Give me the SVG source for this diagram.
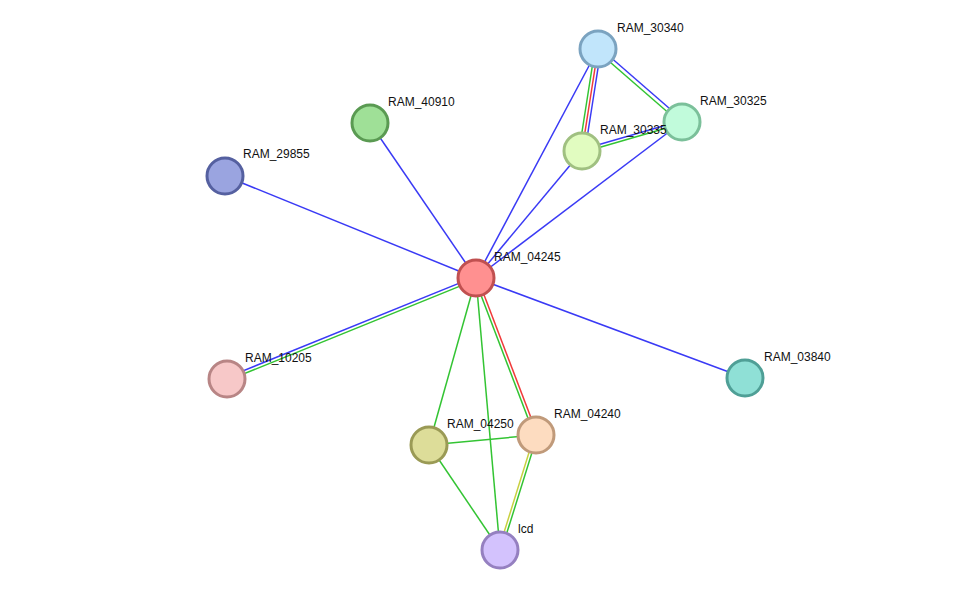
<svg xmlns="http://www.w3.org/2000/svg" width="975" height="596" viewBox="0 0 975 596">
<style>
line{stroke-width:1.5}
.b{stroke:#3a3af5}.g{stroke:#33c433}.r{stroke:#f03a3a}.y{stroke:#c8d040}
circle{stroke-width:3}
text{font-family:"Liberation Sans",Arial,sans-serif;font-size:12px;fill:#111}
</style>
<rect width="975" height="596" fill="#fff"/>
<g id="connectors">
<line class="b" x1="476" y1="278" x2="598" y2="49"/>
<line class="b" x1="476" y1="278" x2="582" y2="151"/>
<line class="b" x1="476" y1="278" x2="682" y2="122"/>
<line class="g" x1="595" y1="49" x2="579" y2="151"/>
<line class="r" x1="598" y1="49" x2="582" y2="151"/>
<line class="b" x1="601" y1="49" x2="585" y2="151"/>
<line class="b" x1="599.3" y1="47.5" x2="683.3" y2="120.5"/>
<line class="g" x1="596.7" y1="50.5" x2="680.7" y2="123.5"/>
<line class="b" x1="582" y1="149.5" x2="682" y2="120.5"/>
<line class="g" x1="582" y1="152.5" x2="682" y2="123.5"/>
<line class="b" x1="476" y1="278" x2="370" y2="123"/>
<line class="b" x1="476" y1="278" x2="225" y2="176"/>
<line class="b" x1="476" y1="278" x2="745" y2="378"/>
<line class="b" x1="475.4" y1="276.6" x2="226.4" y2="377.6"/>
<line class="g" x1="476.6" y1="279.4" x2="227.6" y2="380.4"/>
<line class="g" x1="474.6" y1="278.5" x2="534.6" y2="435.5"/>
<line class="r" x1="477.4" y1="277.5" x2="537.4" y2="434.5"/>
<line class="g" x1="476" y1="278" x2="429" y2="445"/>
<line class="g" x1="476" y1="278" x2="500" y2="550"/>
<line class="g" x1="429" y1="445" x2="536" y2="435"/>
<line class="g" x1="429" y1="445" x2="500" y2="550"/>
<line class="y" x1="534.5" y1="435" x2="498.5" y2="550"/>
<line class="g" x1="537.5" y1="435" x2="501.5" y2="550"/>
</g>
<g id="RAM_30340"><circle cx="598" cy="49" r="18" fill="#c1e5fb" stroke="#7ba3c0"/><text x="617" y="32">RAM_30340</text></g>
<g id="RAM_30325"><circle cx="682" cy="122" r="18" fill="#c1fbdb" stroke="#7bc09a"/><text x="700" y="105">RAM_30325</text></g>
<g id="RAM_30335"><circle cx="582" cy="151" r="18" fill="#e1fcc0" stroke="#a0c081"/><text x="600" y="134">RAM_30335</text></g>
<g id="RAM_40910"><circle cx="370" cy="123" r="18" fill="#9fe097" stroke="#5a9a52"/><text x="388" y="106">RAM_40910</text></g>
<g id="RAM_29855"><circle cx="225" cy="176" r="18" fill="#9aa4e0" stroke="#5560a0"/><text x="243" y="158">RAM_29855</text></g>
<g id="RAM_04245"><circle cx="476" cy="278" r="18" fill="#ff9090" stroke="#c05050"/><text x="494" y="261">RAM_04245</text></g>
<g id="RAM_10205"><circle cx="227" cy="379" r="18" fill="#f7c8c8" stroke="#b88585"/><text x="245" y="362">RAM_10205</text></g>
<g id="RAM_03840"><circle cx="745" cy="378" r="18" fill="#8fe0d6" stroke="#4f9f96"/><text x="764" y="361">RAM_03840</text></g>
<g id="RAM_04250"><circle cx="429" cy="445" r="18" fill="#dddd99" stroke="#9a9a55"/><text x="447" y="428">RAM_04250</text></g>
<g id="RAM_04240"><circle cx="536" cy="435" r="18" fill="#fddcc0" stroke="#c09a7a"/><text x="554" y="418">RAM_04240</text></g>
<g id="lcd"><circle cx="500" cy="550" r="18" fill="#d3c2fd" stroke="#9580c0"/><text x="518" y="533">lcd</text></g>
</svg>
